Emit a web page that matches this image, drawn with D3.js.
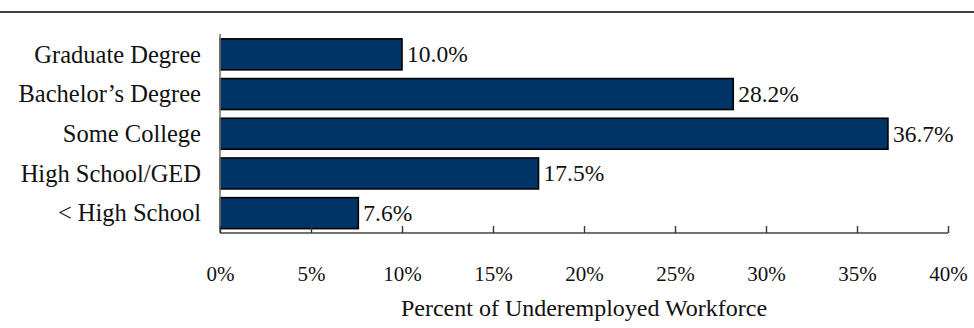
<!DOCTYPE html>
<html>
<head>
<meta charset="utf-8">
<script src="https://cdn.jsdelivr.net/npm/d3@7"></script>
<style>
  html, body { margin: 0; padding: 0; background: #fff; }
  svg { display: block; }
  text { font-family: "Liberation Serif", "DejaVu Serif", serif; fill: #111; }
</style>
</head>
<body>
<script>
// Share of the underemployed workforce by educational attainment
const categories = ["Graduate Degree", "Bachelor\u2019s Degree", "Some College", "High School/GED", "< High School"];
const values = [10.0, 28.2, 36.7, 17.5, 7.6];
const tickValues = [0, 5, 10, 15, 20, 25, 30, 35, 40];
const axisTitle = "Percent of Underemployed Workforce";

const W = 974, H = 328;
const svg = d3.select("body").append("svg").attr("width", W).attr("height", H);

// rule across the top of the figure
svg.append("line")
  .attr("x1", 0).attr("x2", W).attr("y1", 12).attr("y2", 12)
  .attr("stroke", "#000").attr("stroke-width", 1.6);

const x = d3.scaleLinear().domain([0, 40]).range([220, 948]);
const y = d3.scaleBand().domain(categories).range([34.5, 233]).paddingInner(0.22).paddingOuter(0.11);

// bars
svg.append("g").selectAll("rect").data(values).join("rect")
  .attr("x", x(0))
  .attr("y", (d, i) => y(categories[i]))
  .attr("width", d => x(d) - x(0))
  .attr("height", y.bandwidth())
  .attr("fill", "#003466")
  .attr("stroke", "#000")
  .attr("stroke-width", 1.6);

// value labels
svg.append("g").selectAll("text").data(values).join("text")
  .attr("x", d => x(d) + 5)
  .attr("y", (d, i) => y(categories[i]) + y.bandwidth() / 2)
  .attr("dy", "0.34em")
  .attr("font-size", 23.5)
  .text(d => d.toFixed(1) + "%");

// category axis
const yAxis = svg.append("g").attr("transform", `translate(${x(0)},0)`)
  .call(d3.axisLeft(y).tickSize(0).tickPadding(19));
yAxis.select(".domain").attr("stroke", "#777").attr("stroke-width", 1.6)
  .attr("d", `M0,34V233`);
yAxis.selectAll("text").attr("font-size", 24.5).attr("font-family", "Liberation Serif").attr("fill", "#111").attr("dy", "0.34em");

// value axis: ticks point up into the plot, labels sit well below
const xAxis = svg.append("g").attr("transform", "translate(0,233)")
  .call(d3.axisTop(x).tickValues(tickValues).tickSize(7).tickFormat(d => d + "%"));
xAxis.select(".domain").attr("stroke", "#444").attr("stroke-width", 1.6).attr("d", `M${x(0)},0H${x(40)}`);
xAxis.selectAll(".tick line").attr("stroke", "#333").attr("stroke-width", 1.4);
xAxis.selectAll(".tick text")
  .attr("y", 48).attr("dy", 0)
  .attr("font-size", 21).attr("font-family", "Liberation Serif").attr("fill", "#111");

svg.append("text")
  .attr("x", (x(0) + x(40)) / 2)
  .attr("y", 316)
  .attr("text-anchor", "middle")
  .attr("font-size", 24)
  .text(axisTitle);
</script>
</body>
</html>
